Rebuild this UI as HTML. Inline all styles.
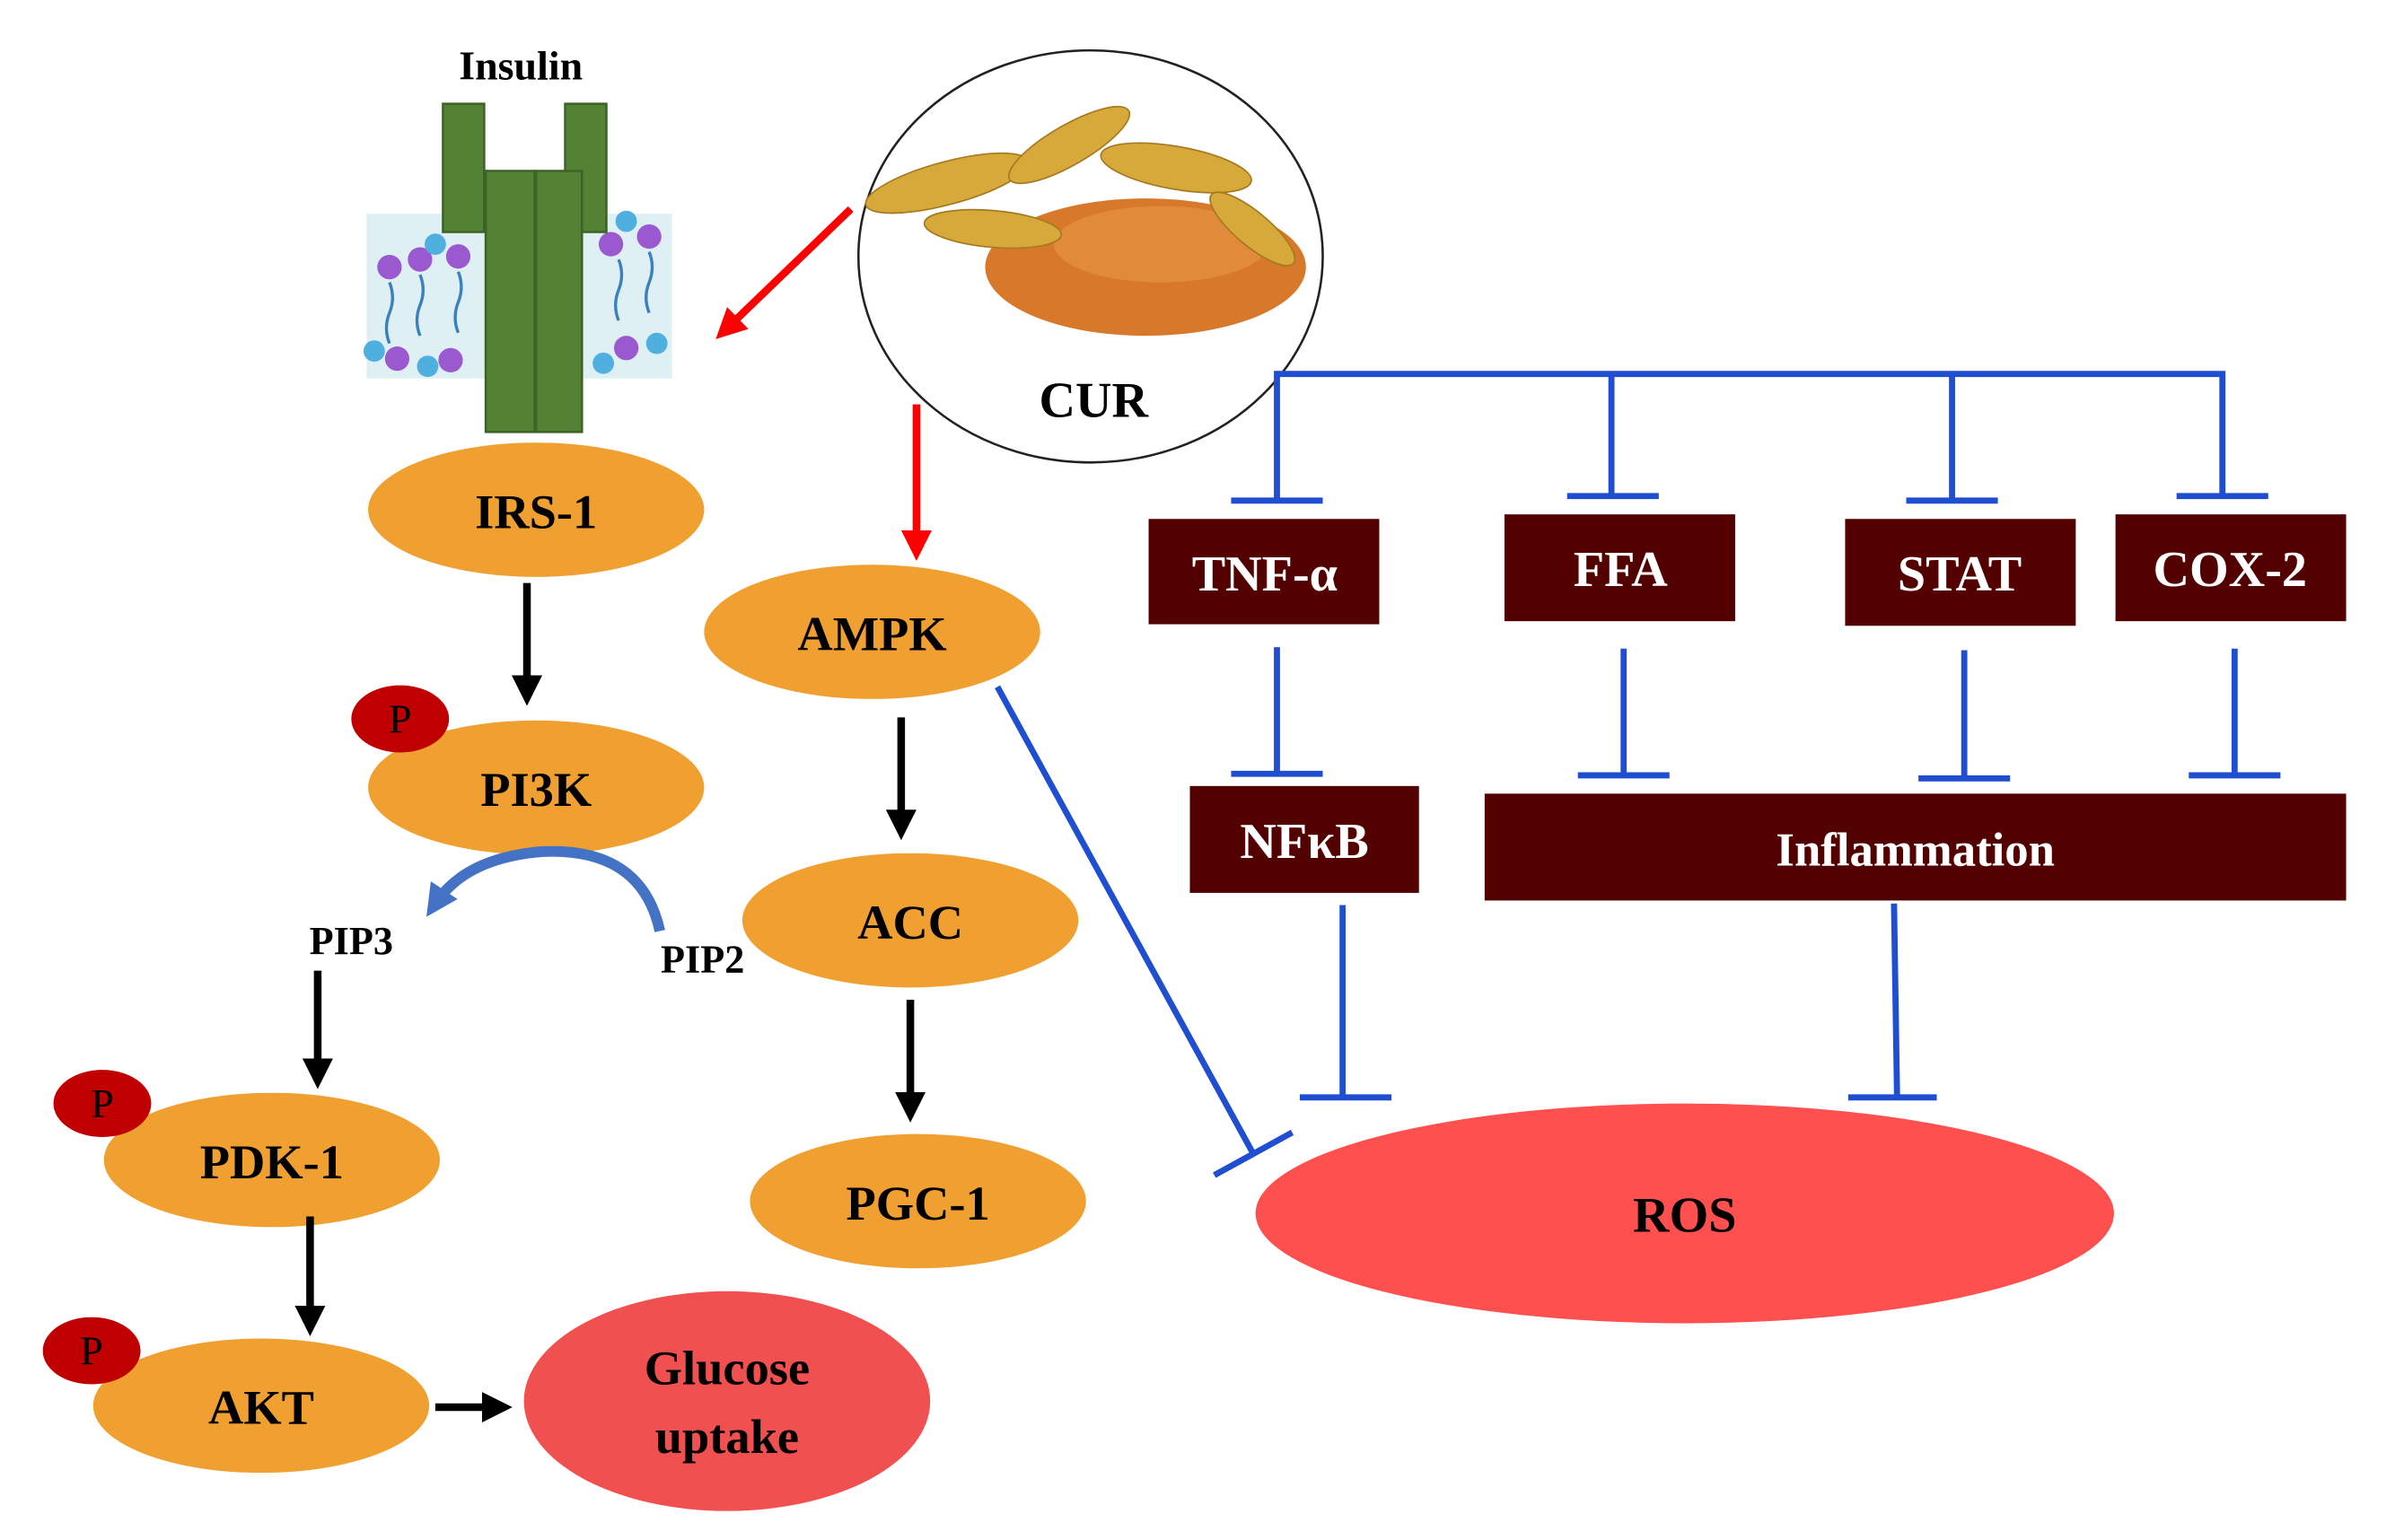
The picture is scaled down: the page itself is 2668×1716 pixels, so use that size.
<!DOCTYPE html>
<html><head><meta charset="utf-8"><style>
html,body{margin:0;padding:0;background:#fff;}
svg{display:block;}
text{font-family:"Liberation Serif",serif;font-weight:bold;}
</style></head><body>
<svg width="2668" height="1716" viewBox="0 0 1568 1009" preserveAspectRatio="none" xmlns="http://www.w3.org/2000/svg">
<defs>
<marker id="ab" markerWidth="4" markerHeight="4" refX="2.5" refY="2" orient="auto" markerUnits="strokeWidth"><path d="M0,0 L4,2 L0,4 z" fill="#000"/></marker>
<marker id="ar" markerWidth="4" markerHeight="4" refX="2.5" refY="2" orient="auto" markerUnits="strokeWidth"><path d="M0,0 L4,2 L0,4 z" fill="#f00"/></marker>
<marker id="abl" markerWidth="3" markerHeight="3" refX="1.5" refY="1.5" orient="auto" markerUnits="strokeWidth"><path d="M0,0 L3,1.5 L0,3 z" fill="#4472C4"/></marker>
</defs>
<rect width="1580" height="1020" fill="#fff"/>

<text x="341" y="52" font-size="27" text-anchor="middle">Insulin</text>
<g>
<rect x="240" y="140" width="200" height="108" fill="#dff0f5"/>
<g fill="#9b59d0">
<circle cx="255" cy="175" r="8"/><circle cx="275" cy="170" r="8"/><circle cx="300" cy="168" r="8"/><circle cx="400" cy="160" r="8"/><circle cx="425" cy="155" r="8"/><circle cx="260" cy="235" r="8"/><circle cx="295" cy="236" r="8"/><circle cx="410" cy="228" r="8"/>
</g>
<g fill="#4fb0e0">
<circle cx="285" cy="160" r="7"/><circle cx="410" cy="145" r="7"/><circle cx="245" cy="230" r="7"/><circle cx="280" cy="240" r="7"/><circle cx="430" cy="225" r="7"/><circle cx="395" cy="238" r="7"/>
</g>
<g stroke="#3a7fbf" stroke-width="2" fill="none">
<path d="M255 185 q4 10 0 20 q-4 10 0 20"/><path d="M275 180 q4 10 0 20 q-4 10 0 20"/><path d="M300 178 q4 10 0 20 q-4 10 0 20"/><path d="M405 170 q4 10 0 20 q-4 10 0 20"/><path d="M425 165 q4 10 0 20 q-4 10 0 20"/>
</g>
<g fill="#548235" stroke="#3d6326" stroke-width="1.5">
<rect x="290" y="68" width="27" height="84"/>
<rect x="370" y="68" width="27" height="84"/>
<rect x="318" y="112" width="32" height="171"/>
<rect x="351" y="112" width="30" height="171"/>
</g>
</g>

<ellipse cx="714" cy="168" rx="152" ry="135" fill="#fff" stroke="#222" stroke-width="1.5"/>
<ellipse cx="750" cy="175" rx="105" ry="45" fill="#d8782a"/>
<ellipse cx="760" cy="160" rx="70" ry="25" fill="#e08a3a"/>
<g fill="#d6a93a" stroke="#a57a20" stroke-width="1">
<ellipse cx="620" cy="120" rx="55" ry="14" transform="rotate(-15 620 120)"/>
<ellipse cx="700" cy="95" rx="45" ry="13" transform="rotate(-30 700 95)"/>
<ellipse cx="770" cy="110" rx="50" ry="14" transform="rotate(10 770 110)"/>
<ellipse cx="820" cy="150" rx="35" ry="11" transform="rotate(40 820 150)"/>
<ellipse cx="650" cy="150" rx="45" ry="12" transform="rotate(5 650 150)"/>
</g>
<text x="716" y="273" font-size="33" text-anchor="middle">CUR</text>

<g stroke="#f00" stroke-width="5" fill="none">
<line x1="557" y1="137" x2="474" y2="217" marker-end="url(#ar)"/>
<line x1="600" y1="265" x2="600" y2="360" marker-end="url(#ar)"/>
</g>

<g fill="#F0A030">
<ellipse cx="351" cy="334" rx="110" ry="44"/>
<ellipse cx="351" cy="516" rx="110" ry="44"/>
<ellipse cx="178" cy="760" rx="110" ry="44"/>
<ellipse cx="171" cy="921" rx="110" ry="44"/>
<ellipse cx="571" cy="414" rx="110" ry="44"/>
<ellipse cx="596" cy="603" rx="110" ry="44"/>
<ellipse cx="601" cy="787" rx="110" ry="44"/>
</g>
<g fill="#C00000">
<ellipse cx="262" cy="471" rx="32" ry="22"/>
<ellipse cx="67" cy="723" rx="32" ry="22"/>
<ellipse cx="60" cy="885" rx="32" ry="22"/>
</g>
<g font-size="27" fill="#000" text-anchor="middle">
<text x="262" y="480" style="font-weight:normal">P</text>
<text x="67" y="732" style="font-weight:normal">P</text>
<text x="60" y="894" style="font-weight:normal">P</text>
</g>
<g font-size="32" text-anchor="middle">
<text x="351" y="346">IRS-1</text>
<text x="351" y="528">PI3K</text>
<text x="178" y="772">PDK-1</text>
<text x="171" y="933">AKT</text>
<text x="571" y="426">AMPK</text>
<text x="596" y="615">ACC</text>
<text x="601" y="799">PGC-1</text>
</g>

<g stroke="#000" stroke-width="5" fill="none">
<line x1="345" y1="382" x2="345" y2="455" marker-end="url(#ab)"/>
<line x1="208" y1="636" x2="208" y2="706" marker-end="url(#ab)"/>
<line x1="203" y1="797" x2="203" y2="868" marker-end="url(#ab)"/>
<line x1="285" y1="922" x2="328" y2="922" marker-end="url(#ab)"/>
<line x1="590" y1="470" x2="590" y2="543" marker-end="url(#ab)"/>
<line x1="596" y1="655" x2="596" y2="728" marker-end="url(#ab)"/>
</g>

<path d="M432 610 Q420 555 355 558 Q305 562 285 592" stroke="#4472C4" stroke-width="7" fill="none" marker-end="url(#abl)"/>
<text x="230" y="625" font-size="26" text-anchor="middle">PIP3</text>
<text x="460" y="637" font-size="26" text-anchor="middle">PIP2</text>

<ellipse cx="476" cy="918" rx="133" ry="72" fill="#F05050"/>
<text x="476" y="907" font-size="32" text-anchor="middle">Glucose</text>
<text x="476" y="952" font-size="32" text-anchor="middle">uptake</text>

<ellipse cx="1103" cy="795" rx="281" ry="72" fill="#FF5050"/>
<text x="1103" y="807" font-size="33" text-anchor="middle">ROS</text>

<g stroke="#1F4FD0" stroke-width="4" fill="none">
<polyline points="836,327 836,245 1455,245 1455,325"/>
<line x1="1055" y1="245" x2="1055" y2="325"/>
<line x1="1278" y1="245" x2="1278" y2="327"/>
<line x1="806" y1="328" x2="866" y2="328"/>
<line x1="1026" y1="325" x2="1086" y2="325"/>
<line x1="1248" y1="328" x2="1308" y2="328"/>
<line x1="1425" y1="325" x2="1485" y2="325"/>
<line x1="836" y1="424" x2="836" y2="507"/><line x1="806" y1="507" x2="866" y2="507"/>
<line x1="1063" y1="425" x2="1063" y2="508"/><line x1="1033" y1="508" x2="1093" y2="508"/>
<line x1="1286" y1="426" x2="1286" y2="510"/><line x1="1256" y1="510" x2="1316" y2="510"/>
<line x1="1463" y1="425" x2="1463" y2="508"/><line x1="1433" y1="508" x2="1493" y2="508"/>
<line x1="879" y1="593" x2="879" y2="719"/><line x1="851" y1="719" x2="911" y2="719"/>
<line x1="1240" y1="592" x2="1242" y2="719"/><line x1="1210" y1="719" x2="1268" y2="719"/>
<line x1="653" y1="450" x2="820" y2="755"/><line x1="795" y1="770" x2="846" y2="742"/>
</g>

<g fill="#520000">
<rect x="752" y="340" width="151" height="69"/>
<rect x="985" y="337" width="151" height="70"/>
<rect x="1208" y="340" width="151" height="70"/>
<rect x="1385" y="337" width="151" height="70"/>
<rect x="779" y="515" width="150" height="70"/>
<rect x="972" y="520" width="564" height="70"/>
</g>
<g fill="#fff" font-size="33" text-anchor="middle">
<text x="828" y="387">TNF-α</text>
<text x="1061" y="384">FFA</text>
<text x="1283" y="387">STAT</text>
<text x="1460" y="384">COX-2</text>
<text x="854" y="562">NFκB</text>
<text x="1254" y="567" font-size="31">Inflammation</text>
</g>
</svg>
</body></html>
